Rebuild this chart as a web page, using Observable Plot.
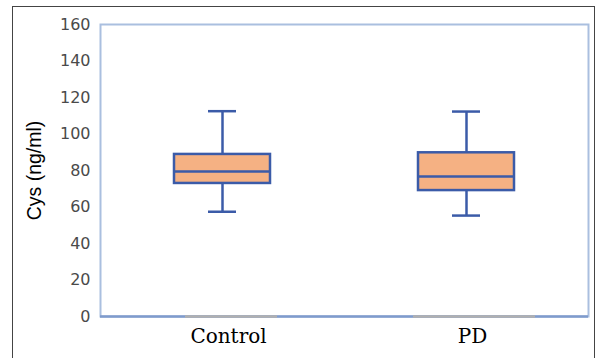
<!DOCTYPE html>
<html>
<head>
<meta charset="utf-8">
<script src="https://cdn.jsdelivr.net/npm/d3@7"></script>
<script src="https://cdn.jsdelivr.net/npm/@observablehq/plot@0.6"></script>
<style>
  html, body { margin: 0; padding: 0; background: #fff; }
  #wrap { position: relative; width: 598px; height: 358px; overflow: hidden; }
  #outer { position: absolute; left: 12px; top: 6px; width: 581px; height: 360px;
           border: 1.5px solid #444; border-bottom: none; pointer-events: none; }
</style>
</head>
<body>
<div id="wrap"><div id="outer"></div></div>
<script>
const categories = ["Control", "PD"];
const whiskerLow = [57.4, 55.3];
const q1 = [72.9, 69.0];
const median = [79.5, 76.7];
const q3 = [88.8, 89.7];
const whiskerHigh = [112.5, 112.3];
const yTicks = [0, 20, 40, 60, 80, 100, 120, 140, 160];
const yLabel = "Cys (ng/ml)";

const data = categories.map((c, i) => ({
  cat: c, lo: whiskerLow[i], q1: q1[i], med: median[i], q3: q3[i], hi: whiskerHigh[i]
}));

const boxStroke = "#3b5ba8";
const boxFill = "#f5b183";

const chart = Plot.plot({
  width: 598,
  height: 358,
  marginLeft: 100,
  marginTop: 24,
  marginRight: 10,
  marginBottom: 42,
  style: { fontFamily: "DejaVu Sans" },
  x: { type: "band", domain: categories, padding: 0, axis: null },
  y: { domain: [0, 160] },
  marks: [
    Plot.frame({ stroke: "#aabfdf", strokeWidth: 2 }),
    Plot.ruleY([0], { stroke: "#7f9bcc", strokeWidth: 2.5 }),
    Plot.tickY(data.filter(d => d.cat === "Control"), { x: "cat", y: () => 0, stroke: "#b0b0b0", strokeWidth: 2.5, insetLeft: 85, insetRight: 67 }),
    Plot.tickY(data.filter(d => d.cat === "PD"), { x: "cat", y: () => 0, stroke: "#b0b0b0", strokeWidth: 2.5, insetLeft: 69, insetRight: 53 }),
    Plot.ruleX(data, { x: "cat", y1: "lo", y2: "hi", stroke: boxStroke, strokeWidth: 2.5 }),
    Plot.barY(data, { x: "cat", y1: "q1", y2: "q3", fill: boxFill, stroke: boxStroke, strokeWidth: 2.5, insetLeft: 74, insetRight: 74 }),
    Plot.tickY(data, { x: "cat", y: "med", stroke: boxStroke, strokeWidth: 2.5, insetLeft: 74, insetRight: 74 }),
    Plot.tickY(data, { x: "cat", y: "lo", stroke: boxStroke, strokeWidth: 2.5, insetLeft: 108, insetRight: 108 }),
    Plot.tickY(data, { x: "cat", y: "hi", stroke: boxStroke, strokeWidth: 2.5, insetLeft: 108, insetRight: 108 }),
    Plot.axisY(yTicks, { tickSize: 0, tickPadding: 10, fontSize: 16, fill: "#4a4a4a", label: null }),
    Plot.axisY({ ticks: [], tickSize: 0, label: yLabel, labelAnchor: "center", labelArrow: "none", labelOffset: 73, fontSize: 19.5, fill: "#000", fontFamily: "Liberation Sans" }),
    Plot.text(categories, { x: d => d, frameAnchor: "bottom", dy: 26, dx: 6, fontSize: 20, fill: "#000", fontFamily: "DejaVu Serif", text: d => d, ariaLabel: "category label" })
  ]
});
document.getElementById("wrap").insertBefore(chart, document.getElementById("outer"));

// narrow the serif labels toward Times-like proportions
d3.select(chart).selectAll('g[aria-label="category label"] text').each(function () {
  const w = this.getComputedTextLength();
  if (w > 0) {
    this.setAttribute("textLength", (w * 0.88).toFixed(1));
    this.setAttribute("lengthAdjust", "spacingAndGlyphs");
  }
});
</script>
</body>
</html>
